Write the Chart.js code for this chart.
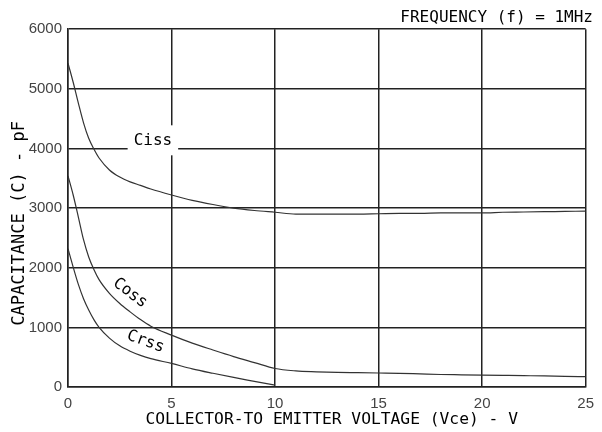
<!DOCTYPE html>
<html lang="en">
  <head>
    <meta charset="UTF-8" />
    <title>Capacitance vs Collector-Emitter Voltage</title>
    <style>
      html,
      body {
        margin: 0;
        padding: 0;
        background: #fff;
      }
      .container {
        position: relative;
        width: 602px;
        height: 432px;
      }
    </style>
    <script src="https://cdn.jsdelivr.net/npm/chart.js"></script>
  </head>
  <body>
    <div class="container"><canvas id="chart"></canvas></div>
    <script>
      // Vce (V)
      const vce = [0, 0.25, 0.5, 0.75, 1, 1.25, 1.5, 2, 2.5, 3, 3.5, 4, 5, 6, 7, 8, 9, 10,
        11, 12, 13, 14, 15, 16, 17, 18, 19, 20, 21, 22, 23, 24, 25];
      // capacitance (pF)
      const ciss = [5430, 5110, 4760, 4430, 4170, 3990, 3840, 3640, 3520, 3440, 3380, 3320, 3220,
        3130, 3060, 3000, 2960, 2930, 2900, 2900, 2900, 2900, 2905, 2910, 2910, 2920, 2920, 2920,
        2930, 2935, 2940, 2945, 2950];
      const coss = [3540, 3220, 2850, 2470, 2180, 1970, 1800, 1570, 1400, 1260, 1130, 1020, 870,
        735, 620, 510, 410, 310, 270, 255, 245, 240, 235, 230, 220, 210, 205, 200, 195, 190, 185,
        178, 173];
      const crss = [2320, 2010, 1720, 1480, 1290, 1130, 1000, 820, 690, 600, 530, 475, 395,
        305, 230, 160, 95, 30];

      const xTicks = [0, 5, 10, 15, 20, 25];
      const yTicks = [0, 1000, 2000, 3000, 4000, 5000, 6000];

      const curveNames = ["Ciss", "Coss", "Crss"];
      // label anchor in data units + rotation
      const curveLabels = [
        { text: "Ciss", x: 4.1, y: 4120, angle: 0, box: true },
        { text: "Coss", x: 3.0, y: 1575, angle: 37, box: false },
        { text: "Crss", x: 3.75, y: 760, angle: 20, box: false },
      ];

      const mono = '"DejaVu Sans Mono", monospace';
      const toPoints = (ys) => ys.map((v, i) => ({ x: vce[i], y: v }));

      const labelPlugin = {
        id: "curveLabels",
        afterDatasetsDraw(chart) {
          const { ctx, scales } = chart;
          ctx.save();
          ctx.font = "16px " + mono;
          ctx.textAlign = "center";
          ctx.textBaseline = "middle";
          curveLabels.forEach((l) => {
            const px = scales.x.getPixelForValue(l.x);
            const py = scales.y.getPixelForValue(l.y);
            ctx.save();
            ctx.translate(px, py);
            ctx.rotate((l.angle * Math.PI) / 180);
            if (l.box) {
              const w = ctx.measureText(l.text).width + 12;
              ctx.fillStyle = "#fff";
              ctx.fillRect(-w / 2, -16, w, 30);
            }
            ctx.fillStyle = "#000";
            ctx.fillText(l.text, 0, 0);
            ctx.restore();
          });
          ctx.restore();
        },
      };

      new Chart(document.getElementById("chart"), {
        type: "scatter",
        data: {
          datasets: [ciss, coss, crss].map((d, i) => ({
            label: curveNames[i],
            data: toPoints(d),
            showLine: true,
            borderColor: "#333",
            borderWidth: 1.2,
            pointRadius: 0,
            cubicInterpolationMode: "monotone",
          })),
        },
        options: {
          responsive: true,
          maintainAspectRatio: false,
          animation: false,
          layout: { padding: { left: 0, right: 9, top: 0, bottom: 0 } },
          plugins: {
            legend: { display: false },
            tooltip: { enabled: false },
            title: {
              display: true,
              text: "FREQUENCY (f) = 1MHz",
              align: "end",
              color: "#000",
              font: { family: mono, size: 16, weight: "normal" },
              padding: { top: 8, bottom: 2 },
            },
          },
          scales: {
            x: {
              type: "linear",
              min: 0,
              max: 25,
              afterBuildTicks: (s) => (s.ticks = xTicks.map((v) => ({ value: v }))),
              afterFit: (s) => (s.height = 45),
              grid: { color: "#222", lineWidth: 1.5, drawTicks: false },
              border: { color: "#222", width: 1.5 },
              ticks: {
                color: "#444",
                padding: 8,
                font: { family: "Liberation Sans", size: 15 },
                callback: (v) => String(v),
              },
              title: {
                display: true,
                // leading space shifts the centred title a little right
                text: " COLLECTOR-TO EMITTER VOLTAGE (Vce) - V",
                color: "#000",
                font: { family: mono, size: 16.3 },
                padding: { top: 0, bottom: 2 },
              },
            },
            y: {
              min: 0,
              max: 6000,
              afterBuildTicks: (s) => (s.ticks = yTicks.map((v) => ({ value: v }))),
              afterFit: (s) => (s.width = 68),
              grid: { color: "#222", lineWidth: 1.5, drawTicks: false },
              border: { color: "#222", width: 1.5 },
              ticks: {
                color: "#444",
                padding: 6,
                font: { family: "Liberation Sans", size: 15 },
                callback: (v) => String(v),
              },
              title: {
                display: true,
                // trailing spaces nudge the centred title down like the original
                text: "CAPACITANCE (C) - pF   ",
                color: "#000",
                font: { family: mono, size: 17 },
                padding: { top: 9, bottom: 0 },
              },
            },
          },
        },
        plugins: [labelPlugin],
      });
    </script>
  </body>
</html>
